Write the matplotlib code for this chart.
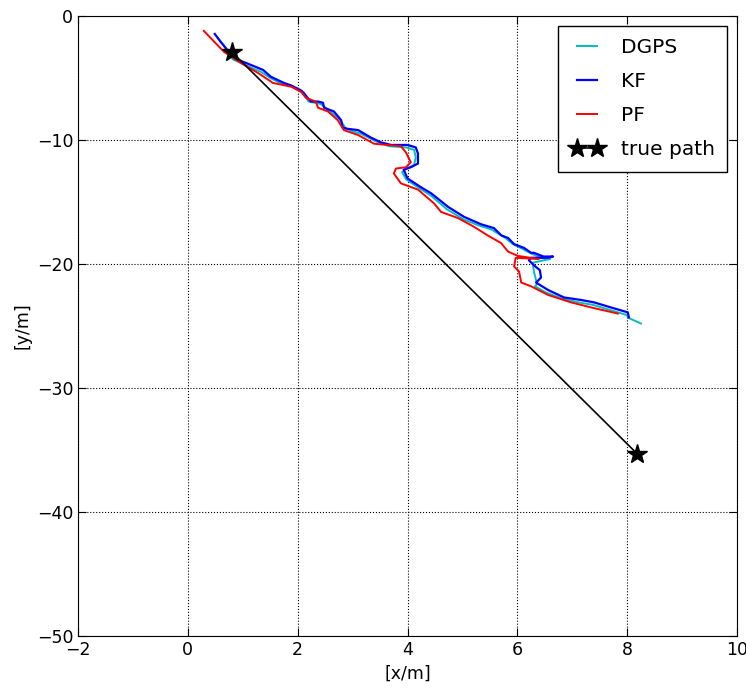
import matplotlib
matplotlib.use("Agg")
import matplotlib.pyplot as plt

# DGPS measurements (cyan)
dgps_x = [0.55, 0.64, 0.82, 1.12, 1.33, 1.50, 1.72, 1.90, 2.09, 2.20, 2.42, 2.62, 2.76, 2.88,
          3.15, 3.42, 3.66, 3.98, 4.12, 4.15, 4.12, 3.98, 3.90, 3.98, 4.22, 4.43, 4.72, 5.02,
          5.30, 5.52, 5.78, 5.92, 6.10, 6.27, 6.45, 6.60, 6.48, 6.28, 6.30, 6.34, 6.36, 6.32,
          6.52, 6.82, 7.12, 7.38, 7.68, 7.98, 8.05, 8.25]
dgps_y = [-1.8, -2.3, -3.5, -4.1, -4.5, -5.0, -5.5, -5.7, -6.2, -6.9, -7.1, -7.8, -8.3, -9.1,
          -9.5, -10.1, -10.5, -10.6, -10.8, -11.4, -12.0, -12.3, -12.6, -13.2, -13.9, -14.5,
          -15.6, -16.4, -16.9, -17.2, -17.9, -18.4, -18.8, -19.2, -19.5, -19.6, -19.7, -19.9,
          -20.6, -21.3, -21.6, -21.8, -22.3, -22.8, -23.1, -23.3, -23.7, -24.1, -24.4, -24.8]

# Kalman filter estimate (blue)
kf_x = [0.49, 0.60, 0.84, 1.15, 1.37, 1.51, 1.75, 1.88, 2.06, 2.11, 2.18, 2.24, 2.37, 2.46,
        2.48, 2.66, 2.79, 2.82, 2.91, 3.10, 3.33, 3.52, 3.70, 4.00, 4.15, 4.19, 4.19, 4.06,
        3.93, 4.00, 4.24, 4.43, 4.74, 5.03, 5.34, 5.57, 5.71, 5.83, 5.94, 6.12, 6.25, 6.30,
        6.48, 6.65, 6.55, 6.25, 6.21, 6.30, 6.41, 6.43, 6.34, 6.56, 6.85, 7.16, 7.40, 7.70,
        8.01, 8.03]
kf_y = [-1.45, -2.1, -3.4, -3.95, -4.35, -4.9, -5.4, -5.6, -6.0, -6.2, -6.6, -6.9, -6.9,
        -7.0, -7.4, -7.7, -8.4, -9.0, -9.1, -9.2, -9.8, -10.2, -10.4, -10.4, -10.6, -11.1,
        -11.9, -12.2, -12.4, -13.1, -13.8, -14.3, -15.4, -16.2, -16.8, -17.1, -17.7, -17.9,
        -18.4, -18.7, -19.1, -19.1, -19.4, -19.4, -19.5, -19.5, -19.7, -20.1, -20.5, -21.1,
        -21.5, -22.1, -22.7, -22.9, -23.1, -23.5, -23.9, -24.3]

# Particle filter estimate (red)
pf_x = [0.29, 0.42, 0.66, 0.97, 1.28, 1.55, 1.88, 2.06, 2.15, 2.33, 2.37, 2.55, 2.73, 2.84,
        3.10, 3.39, 3.88, 3.97, 4.06, 3.97, 3.79, 3.75, 3.88, 4.19, 4.48, 4.61, 4.92, 5.21,
        5.46, 5.70, 5.83, 6.01, 6.39, 5.97, 5.94, 6.03, 6.07, 6.25, 6.56, 6.98, 7.34, 7.83]
pf_y = [-1.2, -1.8, -2.9, -3.8, -4.6, -5.4, -5.7, -6.1, -6.6, -6.9, -7.4, -7.7, -8.4, -9.2,
        -9.6, -10.3, -10.5, -11.0, -11.8, -12.2, -12.3, -12.7, -13.5, -14.0, -15.1, -15.8,
        -16.3, -17.0, -17.7, -18.3, -19.0, -19.35, -19.6, -19.5, -20.2, -20.6, -21.5, -21.8,
        -22.5, -23.1, -23.5, -24.0]

# straight-line true path
true_x = [0.80, 8.18]
true_y = [-2.9, -35.3]

plt.rcParams["xtick.direction"] = "in"
plt.rcParams["ytick.direction"] = "in"

fig = plt.figure(figsize=(7.46, 6.95), dpi=100)
ax = fig.add_axes([0.1046, 0.0849, 0.8834, 0.8921])

ax.plot(dgps_x, dgps_y, color="c", linewidth=1.4, label="DGPS")
ax.plot(kf_x, kf_y, color="b", linewidth=1.6, label="KF")
ax.plot(pf_x, pf_y, color="r", linewidth=1.4, label="PF")
ax.plot(true_x, true_y, "k-*", linewidth=1.2, markersize=15, label="true path")

ax.set_xlim(-2, 10)
ax.set_ylim(-50, 0)
ax.set_xticks(range(-2, 11, 2))
ax.set_yticks(range(-50, 1, 10))
ax.tick_params(labelsize=12.5, top=True, right=True, length=6)
ax.grid(True, color="black", linestyle=":", linewidth=0.8)

ax.set_xlabel("[x/m]", fontsize=12.5)
ax.set_ylabel("[y/m]", fontsize=12.5)

leg = ax.legend(loc="upper right", numpoints=2, fontsize=14.5, fancybox=False,
                borderaxespad=0.5, handlelength=1.6, handletextpad=0.9,
                labelspacing=0.75, borderpad=0.6)
leg.get_frame().set_edgecolor("black")
leg.get_frame().set_alpha(1)

fig.savefig("out.png", dpi=100)
